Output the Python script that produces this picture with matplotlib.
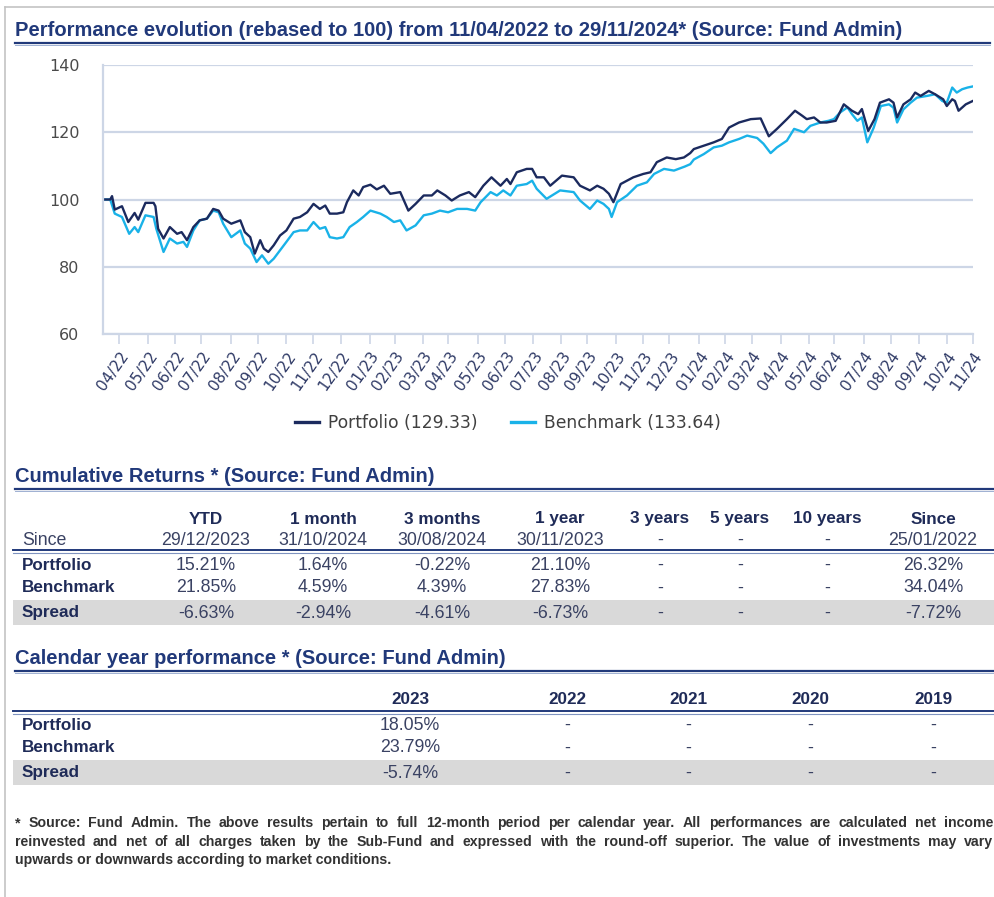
import numpy as np
import pandas as pd
import matplotlib
matplotlib.use("Agg")
import matplotlib.pyplot as plt
from matplotlib.lines import Line2D
from matplotlib.patches import Rectangle

# ---------------- data ----------------
start_date = "2022-04-11"
end_date = "2024-11-29"

port_days = [0, 8, 10, 13, 21, 28, 35, 39, 47, 56,
             58, 61, 67, 74, 82, 87, 93, 100, 107, 115,
             122, 128, 133, 142, 152, 157, 163, 168, 174, 178,
             183, 189, 196, 203, 211, 218, 226, 233, 240, 246,
             251, 259, 266, 270, 277, 283, 288, 296, 303, 311,
             318, 329, 338, 346, 355, 364, 370, 379, 386, 395,
             405, 412, 421, 430, 440, 447, 451, 458, 469, 475,
             480, 488, 495, 508, 521, 528, 539, 547, 554, 560,
             565, 573, 580, 587, 598, 606, 613, 624, 634, 643,
             650, 654, 665, 676, 685, 693, 704, 717, 728, 737,
             746, 757, 766, 774, 779, 787, 794, 801, 811, 820,
             829, 836, 840, 847, 854, 860, 870, 875, 879, 886,
             894, 899, 905, 914, 921, 930, 934, 940, 943, 947,
             955, 963]
port_vals = [100.0, 100.0, 101.0, 97.0, 98.0, 93.3, 96.0, 94.0, 99.0, 99.0,
             98.0, 91.3, 88.4, 91.8, 89.8, 90.3, 87.9, 91.8, 93.8, 94.3,
             97.2, 96.7, 94.3, 92.8, 93.8, 90.3, 88.8, 83.9, 87.9, 85.4,
             84.4, 86.4, 89.3, 90.8, 94.3, 94.8, 96.2, 98.7, 97.2, 98.2,
             95.8, 95.8, 96.2, 99.2, 102.7, 101.2, 103.7, 104.4, 103.0, 104.1,
             101.7, 102.2, 96.7, 98.7, 101.2, 101.2, 102.7, 101.2, 99.7, 101.2,
             102.2, 100.7, 104.1, 106.6, 104.1, 106.1, 104.6, 108.1, 109.1, 109.1,
             106.6, 106.6, 104.1, 107.1, 106.6, 104.1, 102.7, 104.1, 103.2, 101.7,
             99.2, 104.6, 105.6, 106.6, 107.6, 108.1, 111.1, 112.5, 112.0, 112.5,
             113.8, 115.0, 116.0, 117.0, 118.0, 121.4, 122.9, 123.9, 124.1, 118.8,
             121.0, 123.9, 126.4, 124.9, 123.9, 124.4, 122.9, 122.9, 123.4, 128.3,
             126.4, 125.4, 126.9, 120.4, 123.9, 128.8, 129.8, 128.8, 124.4, 128.3,
             129.8, 131.8, 130.8, 132.3, 131.3, 129.8, 127.8, 129.8, 129.3, 126.4,
             128.3, 129.33]

bench_days = [0, 8, 13, 21, 29, 35, 39, 47, 56, 59,
              67, 74, 82, 89, 93, 100, 107, 115, 122, 128,
              133, 142, 152, 157, 163, 170, 176, 183, 189, 196,
              203, 211, 218, 226, 233, 240, 246, 251, 259, 266,
              273, 281, 288, 296, 307, 314, 322, 329, 336, 346,
              355, 364, 373, 382, 392, 403, 412, 418, 429, 436,
              443, 451, 458, 469, 475, 480, 491, 506, 521, 528,
              539, 547, 554, 560, 563, 569, 580, 591, 602, 610,
              621, 632, 644, 650, 654, 665, 676, 685, 693, 704,
              713, 724, 731, 739, 746, 757, 765, 776, 783, 794,
              803, 809, 816, 824, 829, 835, 840, 846, 853, 861,
              870, 875, 879, 886, 894, 901, 912, 921, 929, 934,
              940, 945, 951, 957, 963]
bench_vals = [100.0, 100.0, 95.8, 94.8, 89.8, 91.8, 90.3, 95.3, 94.8, 91.3,
              84.4, 88.4, 86.9, 87.4, 85.9, 90.8, 93.8, 94.3, 96.7, 96.2,
              92.8, 88.8, 90.8, 86.9, 85.4, 81.4, 83.4, 80.9, 82.4, 84.9,
              87.4, 90.3, 90.8, 90.8, 93.3, 91.3, 91.8, 88.8, 88.4, 88.8,
              91.8, 93.3, 94.8, 96.7, 95.8, 94.8, 93.3, 93.8, 90.8, 92.3,
              95.3, 95.8, 96.7, 96.2, 97.2, 97.2, 96.7, 99.2, 102.2, 101.2,
              102.7, 101.2, 104.1, 104.6, 105.6, 103.2, 100.2, 102.7, 102.2, 99.7,
              97.2, 99.7, 98.7, 97.2, 94.8, 99.2, 101.2, 104.1, 105.1, 107.6,
              109.1, 108.6, 109.8, 110.5, 111.9, 113.5, 115.5, 116.0, 117.0, 118.0,
              119.0, 118.3, 116.6, 113.8, 115.5, 117.5, 121.0, 120.0, 121.9, 122.9,
              123.4, 123.9, 125.9, 127.4, 125.4, 123.4, 124.4, 117.0, 121.3, 127.8,
              128.3, 127.3, 122.9, 126.8, 128.8, 130.3, 130.8, 131.3, 129.3, 128.8,
              133.3, 131.8, 132.8, 133.3, 133.64]

y_ticks = [60, 80, 100, 120, 140]
series_names = ["Portfolio", "Benchmark"]

cum_headers = ["YTD", "1 month", "3 months", "1 year", "3 years", "5 years", "10 years", "Since"]
cum_since = ["29/12/2023", "31/10/2024", "30/08/2024", "30/11/2023", "-", "-", "-", "25/01/2022"]
cum_portfolio = ["15.21%", "1.64%", "-0.22%", "21.10%", "-", "-", "-", "26.32%"]
cum_benchmark = ["21.85%", "4.59%", "4.39%", "27.83%", "-", "-", "-", "34.04%"]
cum_spread = ["-6.63%", "-2.94%", "-4.61%", "-6.73%", "-", "-", "-", "-7.72%"]

cal_years = ["2023", "2022", "2021", "2020", "2019"]
cal_portfolio = ["18.05%", "-", "-", "-", "-"]
cal_benchmark = ["23.79%", "-", "-", "-", "-"]
cal_spread = ["-5.74%", "-", "-", "-", "-"]

chart_title = "Performance evolution (rebased to 100) from 11/04/2022 to 29/11/2024* (Source: Fund Admin)"
cum_title = "Cumulative Returns * (Source: Fund Admin)"
cal_title = "Calendar year performance * (Source: Fund Admin)"
footnote = [
    "* Source: Fund Admin. The above results pertain to full 12-month period per calendar year. All performances are calculated net income",
    "reinvested and net of all charges taken by the Sub-Fund and expressed with the round-off superior. The value of investments may vary",
    "upwards or downwards according to market conditions.",
]

# ---------------- style ----------------
W, H = 995, 897
NAVY = "#21397a"
BOLD_TXT = "#1f2b58"
REG_TXT = "#3a4263"
GRID = "#cdd6e6"
PORT_C = "#1b2a5e"
BENCH_C = "#19b2e8"
ARIAL = ["Liberation Sans", "DejaVu Sans"]
NARROW = ["Liberation Sans Narrow", "Liberation Sans", "DejaVu Sans"]
VERD = ["DejaVu Sans"]
TITLE_FS = 14.5
BOLD_FS = 12.3
REG_FS = 12.8

fig = plt.figure(figsize=(W / 100, H / 100), dpi=100)
fig.patch.set_facecolor("white")

# background (pixel-coordinate) axes
bg = fig.add_axes([0, 0, 1, 1])
bg.set_xlim(0, W)
bg.set_ylim(H, 0)
bg.axis("off")

# page frame
bg.add_line(Line2D([5, 5], [7, H], color="#c4c4c4", lw=1.2))
bg.add_line(Line2D([5, W], [7, 7], color="#c4c4c4", lw=1.2))


def section_title(text, y, y_line, x_end):
    bg.text(15, y, text, family=ARIAL, fontweight="bold", fontsize=TITLE_FS,
            color=NAVY, va="center", ha="left")
    bg.add_line(Line2D([15, x_end], [y_line, y_line], color=NAVY, lw=1.6))
    bg.add_line(Line2D([15, x_end], [y_line + 1.8, y_line + 1.8], color="#9fb0d2", lw=0.7))


def double_line(y):
    bg.add_line(Line2D([13, W], [y, y], color=NAVY, lw=1.4))
    bg.add_line(Line2D([13, W], [y + 2.2, y + 2.2], color="#7f93c0", lw=0.8))


# ---------------- chart ----------------
section_title(chart_title, 30, 43, 990)

ax = fig.add_axes([103 / W, 1 - 334 / H, 870 / W, 269 / H])
t0 = np.datetime64(start_date)
port_dates = t0 + np.array(port_days).astype("timedelta64[D]")
bench_dates = t0 + np.array(bench_days).astype("timedelta64[D]")
l_b, = ax.plot(bench_dates, bench_vals, color=BENCH_C, lw=1.7, solid_joinstyle="round")
l_p, = ax.plot(port_dates, port_vals, color=PORT_C, lw=1.7, solid_joinstyle="round")
ax.set_xlim(t0, np.datetime64(end_date))
ax.set_ylim(60, 140)
ax.set_yticks(y_ticks)
ax.set_yticklabels([str(v) for v in y_ticks], family=VERD, fontsize=11.5, color="#4a4a4a")
ax.grid(axis="y", color=GRID, lw=1.6)
ax.set_axisbelow(True)
for s in ["top", "right"]:
    ax.spines[s].set_visible(False)
for s in ["left", "bottom"]:
    ax.spines[s].set_color(GRID)
    ax.spines[s].set_linewidth(1.6)
ax.tick_params(axis="y", length=0, pad=17)

month_ticks = pd.date_range(start_date, end_date, freq=pd.offsets.BMonthEnd())
ax.set_xticks(month_ticks.values)
ax.set_xticklabels([d.strftime("%m/%y") for d in month_ticks], family=VERD,
                   fontsize=11, color="#2f3a66", rotation=55, ha="right",
                   rotation_mode="anchor")
ax.tick_params(axis="x", direction="out", length=7.5, width=1.2, color=GRID, pad=3)

leg = fig.legend([l_p, l_b],
                 [f"{series_names[0]} ({port_vals[-1]:.2f})", f"{series_names[1]} ({bench_vals[-1]:.2f})"],
                 loc="center", bbox_to_anchor=(508 / W, 1 - 423 / H), ncol=2, frameon=False,
                 prop=dict(family=VERD, size=12.3), handlelength=1.4, handletextpad=0.5,
                 columnspacing=2.0)
for txt in leg.get_texts():
    txt.set_color("#404040")
for ln in leg.get_lines():
    ln.set_linewidth(2.4)

# ---------------- cumulative returns table ----------------
section_title(cum_title, 477, 489.5, W)
cum_x = [206, 323, 442, 560, 660, 740, 827, 933]
bg.add_patch(Rectangle((13, 600.5), W - 13, 24.5, color="#d9d9d9", lw=0))
for x, hd, sd in zip(cum_x, cum_headers, cum_since):
    bg.text(x, 519, hd, family=ARIAL, fontweight="bold", fontsize=BOLD_FS, color=BOLD_TXT,
            ha="center", va="center")
    bg.text(x, 540.5, sd, family=ARIAL, fontsize=REG_FS, color=REG_TXT, ha="center", va="center")
bg.text(22, 540.5, "Since", family=ARIAL, fontsize=REG_FS, color=REG_TXT, ha="left", va="center")
double_line(550.5)
for y, name, vals in zip([565, 588, 613], ["Portfolio", "Benchmark", "Spread"],
                         [cum_portfolio, cum_benchmark, cum_spread]):
    bg.text(22, y, name, family=ARIAL, fontweight="bold", fontsize=BOLD_FS, color=BOLD_TXT,
            ha="left", va="center")
    for x, v in zip(cum_x, vals):
        bg.text(x, y, v, family=ARIAL, fontsize=REG_FS, color=REG_TXT, ha="center", va="center")

# ---------------- calendar year table ----------------
section_title(cal_title, 659, 671.5, W)
cal_x = [410, 567, 688, 810, 933]
bg.add_patch(Rectangle((13, 760), W - 13, 25, color="#d9d9d9", lw=0))
for x, yr in zip(cal_x, cal_years):
    bg.text(x, 700, yr, family=ARIAL, fontweight="bold", fontsize=BOLD_FS, color=BOLD_TXT,
            ha="center", va="center")
double_line(711.5)
for y, name, vals in zip([725, 748, 773], ["Portfolio", "Benchmark", "Spread"],
                         [cal_portfolio, cal_benchmark, cal_spread]):
    bg.text(22, y, name, family=ARIAL, fontweight="bold", fontsize=BOLD_FS, color=BOLD_TXT,
            ha="left", va="center")
    for x, v in zip(cal_x, vals):
        bg.text(x, y, v, family=ARIAL, fontsize=REG_FS, color=REG_TXT, ha="center", va="center")

# ---------------- footnote (justified) ----------------
renderer = fig.canvas.get_renderer()
fn_y = [823, 842, 860]
for i, (line, y) in enumerate(zip(footnote, fn_y)):
    kw = dict(family=NARROW, fontweight="bold", fontsize=10.2, color="#333333",
              va="center", ha="left")
    if i == len(footnote) - 1:
        bg.text(15, y, line, **kw)
        continue
    words = line.split(" ")
    texts = [bg.text(0, y, w_, **kw) for w_ in words]
    widths = [t.get_window_extent(renderer).width for t in texts]
    gap = (993 - 15 - sum(widths)) / (len(words) - 1)
    xx = 15
    for t, wd in zip(texts, widths):
        t.set_x(xx)
        xx += wd + gap

fig.savefig("out.png", dpi=100, facecolor="white")
